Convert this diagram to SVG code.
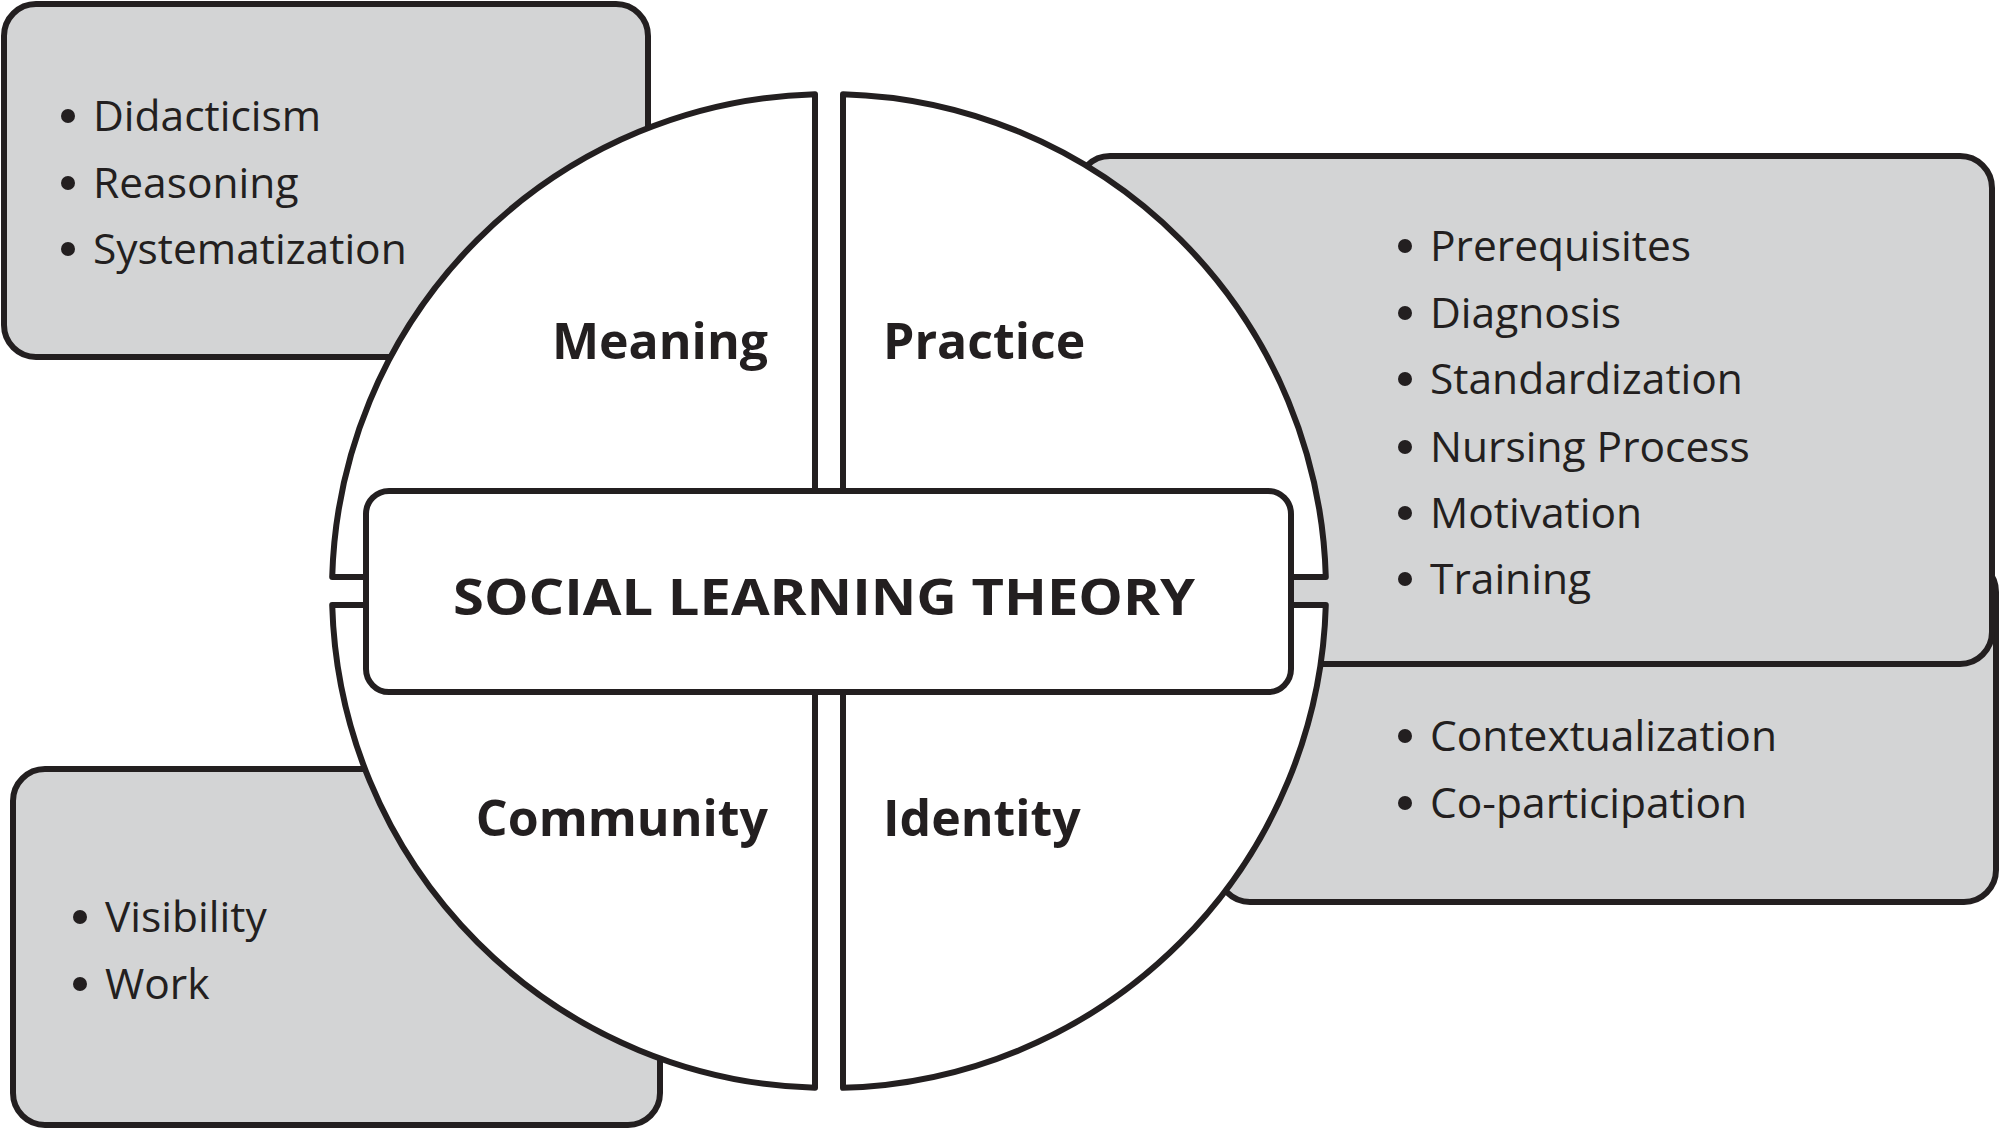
<svg xmlns="http://www.w3.org/2000/svg" width="2000" height="1128" viewBox="0 0 2000 1128">
<style>
.box{fill:#d3d4d5;stroke:#231f20;stroke-width:6}
.q{fill:#fff;stroke:#231f20;stroke-width:6;stroke-linejoin:round}
.t{font-family:"Open Sans","Liberation Sans",sans-serif;font-size:42.5px;fill:#231f20}
.b{font-family:"Open Sans","Liberation Sans",sans-serif;font-size:50px;font-weight:bold;fill:#231f20}
.d{fill:#231f20}
</style>
<rect width="2000" height="1128" fill="#fff"/>
<g id="box-meaning"><rect class="box" x="4" y="4" width="644" height="353" rx="32"/></g>
<g id="box-identity"><rect class="box" x="1218" y="560" width="778" height="342" rx="32"/></g>
<g id="box-practice"><rect class="box" x="1078" y="156" width="914" height="508" rx="32"/></g>
<g id="box-community"><rect class="box" x="13" y="769" width="647" height="356" rx="32"/></g>
<g id="quadrants">
<path class="q" d="M815,577 L332.2,577 A497,497 0 0 1 815,94.2 Z"/>
<path class="q" d="M843,577 L843,94.2 A497,497 0 0 1 1325.8,577 Z"/>
<path class="q" d="M815,605 L815,1087.8 A497,497 0 0 1 332.2,605 Z"/>
<path class="q" d="M843,605 L1325.8,605 A497,497 0 0 1 843,1087.8 Z"/>
</g>
<g id="center"><rect class="q" x="366" y="491" width="925" height="201" rx="23"/>
<text class="b" x="824" y="615" text-anchor="middle" font-size="46" textLength="742" lengthAdjust="spacingAndGlyphs">SOCIAL LEARNING THEORY</text></g>
<g id="labels">
<text class="b" x="768" y="359" text-anchor="end">Meaning</text>
<text class="b" x="883" y="359">Practice</text>
<text class="b" x="768" y="836" text-anchor="end">Community</text>
<text class="b" x="883" y="836">Identity</text>
</g>
<g id="list-meaning">
<circle class="d" cx="68" cy="116" r="7"/><text class="t" x="93" y="131">Didacticism</text>
<circle class="d" cx="68" cy="183" r="7"/><text class="t" x="93" y="198">Reasoning</text>
<circle class="d" cx="68" cy="249" r="7"/><text class="t" x="93" y="264">Systematization</text>
</g>
<g id="list-practice">
<circle class="d" cx="1405" cy="246" r="7"/><text class="t" x="1430" y="261">Prerequisites</text>
<circle class="d" cx="1405" cy="313" r="7"/><text class="t" x="1430" y="328">Diagnosis</text>
<circle class="d" cx="1405" cy="379" r="7"/><text class="t" x="1430" y="394">Standardization</text>
<circle class="d" cx="1405" cy="447" r="7"/><text class="t" x="1430" y="462">Nursing Process</text>
<circle class="d" cx="1405" cy="513" r="7"/><text class="t" x="1430" y="528">Motivation</text>
<circle class="d" cx="1405" cy="579" r="7"/><text class="t" x="1430" y="594">Training</text>
</g>
<g id="list-identity">
<circle class="d" cx="1405" cy="736" r="7"/><text class="t" x="1430" y="751">Contextualization</text>
<circle class="d" cx="1405" cy="803" r="7"/><text class="t" x="1430" y="818">Co-participation</text>
</g>
<g id="list-community">
<circle class="d" cx="80" cy="917" r="7"/><text class="t" x="105" y="932">Visibility</text>
<circle class="d" cx="80" cy="984" r="7"/><text class="t" x="105" y="999">Work</text>
</g>
<g id="connectors"/>
</svg>
